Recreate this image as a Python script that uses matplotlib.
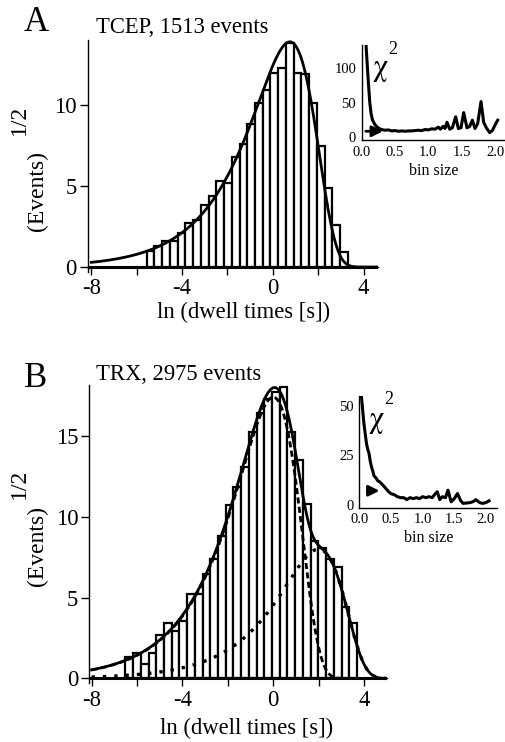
import numpy as np
import matplotlib
matplotlib.use("Agg")
import matplotlib.pyplot as plt

plt.rcParams['font.family'] = ['Liberation Serif', 'DejaVu Serif']

# ---------------- data ----------------
# Panel A: TCEP histogram (sqrt of counts), log-binned dwell times
a_bin_start = -5.56
a_bin_width = 0.341
a_heights = [1.0, 1.3, 1.6, 1.6, 2.1, 2.7, 2.9, 3.8, 4.4, 5.3, 5.2, 6.8, 7.6,
             8.8, 10.1, 10.9, 12.0, 12.3, 13.8, 12.0, 11.9, 10.1, 7.5, 4.9,
             2.6, 0.9]
a_fit_peak = 13.9
a_fit_mode = 0.75

# Panel B: TRX histogram
b_bin_start = -6.51
b_bin_width = 0.34
b_heights = [1.3, 1.6, 0.9, 1.6, 2.7, 3.45, 2.95, 3.55, 5.25, 5.25,
             6.45, 7.4, 8.8, 10.75, 11.85, 13.1, 15.25, 16.4, 17.3, 17.7, 18.0,
             15.25, 13.5, 10.8, 8.5, 8.1, 7.4, 6.9, 4.4, 3.4]
b_fit1_peak, b_fit1_mode = 17.4, 0.0
b_fit2_peak, b_fit2_mode = 8.0, 2.0

# insets: chi^2 vs bin size
a_chi_bin = [0.065, 0.08, 0.10, 0.12, 0.14, 0.16, 0.19, 0.22, 0.26, 0.30, 0.35,
             0.40, 0.45, 0.50, 0.55, 0.60, 0.65, 0.70, 0.75, 0.80, 0.85, 0.90,
             0.95, 1.00, 1.05, 1.10, 1.15, 1.18, 1.22, 1.25, 1.28, 1.32, 1.36,
             1.41, 1.45, 1.49, 1.53, 1.58, 1.62, 1.66, 1.70, 1.74, 1.79, 1.83,
             1.87, 1.92, 1.96, 2.00, 2.04]
a_chi_val = [134, 110, 80, 52, 35, 26, 20, 16, 13, 11.5, 10.5,
             11, 9.5, 10, 9, 9.5, 9, 9.5, 9.5, 10, 10.5, 10,
             11.5, 11, 12.5, 12, 15, 12, 16, 13, 22, 12, 14,
             30, 13, 14, 36, 14, 16, 25, 13, 20, 52, 22,
             14, 7, 10, 18, 25]
b_chi_bin = [0.03, 0.05, 0.07, 0.09, 0.11, 0.13, 0.15, 0.17, 0.19, 0.21, 0.23,
             0.26, 0.29, 0.32, 0.35, 0.38, 0.42, 0.46, 0.50, 0.55, 0.60, 0.65,
             0.70, 0.75, 0.80, 0.85, 0.90, 0.95, 1.00, 1.05, 1.10, 1.15, 1.20,
             1.23, 1.27, 1.31, 1.36, 1.40, 1.45, 1.50, 1.55, 1.60, 1.64, 1.70,
             1.75, 1.80, 1.84, 1.90, 1.95, 2.00, 2.05]
b_chi_val = [55, 48, 41, 36, 31, 28, 26, 22, 19, 17, 14.5,
             13.5, 12, 11.5, 10.5, 9.5, 8, 6.5, 5.5, 5, 4, 3.5,
             3.5, 2.5, 3.5, 3, 3.5, 3, 4, 3.5, 4, 3.5, 5.5,
             6.5, 2.5, 4, 3.5, 7.3, 1.4, 3, 5.6, 2, 0.6, 0.8,
             1, 1.5, 2.5, 1, 0.6, 1, 1.9]
a_opt_bin = 0.36
a_opt_chi = 9
b_opt_bin = 0.36
b_opt_chi = 7


def fit_component(x, peak, mode):
    """sqrt of a single-exponential dwell-time density on a log axis"""
    u = np.exp(x - mode)
    return peak * np.exp((x - mode) / 2.0) * np.exp(-(u - 1.0) / 2.0)


fig = plt.figure(figsize=(5.06, 7.42), dpi=100)

FS = 16.3
YFS = 17
CHI_FONT = ['STIXGeneral', 'Liberation Serif', 'DejaVu Serif']


def style_main(ax, xr, yr, yticks):
    ax.set_xlim(*xr)
    ax.set_ylim(*yr)
    for s in ('top', 'right'):
        ax.spines[s].set_visible(False)
    ax.spines['bottom'].set_position(('data', 0))
    ax.spines['left'].set_linewidth(1.0)
    ax.spines['bottom'].set_linewidth(1.0)
    ax.set_xticks([-8, -6, -4, -2, 0, 2, 4])
    ax.set_xticklabels(['-8', '', '-4', '', '0', '', '4'])
    ax.set_yticks(yticks)
    ax.tick_params(direction='out', length=6, width=1.0, labelsize=FS, pad=2)


# ---------------- panel A ----------------
axA = fig.add_axes([0.1739, 0.6336, 0.5737, 0.3122])
style_main(axA, (-8.15, 4.65), (-0.3, 14.0), [0, 5, 10])
a_left = a_bin_start + a_bin_width * np.arange(len(a_heights))
axA.bar(a_left, a_heights, width=a_bin_width, align='edge', facecolor='white',
        edgecolor='black', linewidth=1.6, zorder=2)
axA.axhline(0, color='black', lw=2.2, zorder=3)
xa = np.linspace(-8.0, 4.65, 600)
axA.plot(xa, fit_component(xa, a_fit_peak, a_fit_mode), color='black', lw=2.0,
         zorder=4)
axA.set_xlabel('ln (dwell times [s])', fontsize=FS)
axA.xaxis.set_label_coords(0.536, -0.177)
axA.xaxis.label.set_va('center')

fig.text(24 / 506, 1 - 31 / 742, 'A', fontsize=25, ha='left', va='baseline')
fig.text(96 / 506, 1 - 33 / 742, 'TCEP, 1513 events', fontsize=FS, ha='left',
         va='baseline')
fig.text(37 / 506, 1 - 191 / 742, '(Events)', fontsize=YFS, rotation=90,
         ha='center', va='center')
fig.text(19 / 506, 1 - 120 / 742, '1/2', fontsize=YFS, rotation=90,
         ha='center', va='center')

# ---------------- panel B ----------------
axB = fig.add_axes([0.1765, 0.0791, 0.5877, 0.402])
style_main(axB, (-8.1, 5.0), (-0.3, 18.15), [0, 5, 10, 15])
b_left = b_bin_start + b_bin_width * np.arange(len(b_heights))
axB.bar(b_left, b_heights, width=b_bin_width, align='edge', facecolor='white',
        edgecolor='black', linewidth=1.6, zorder=2)
axB.axhline(0, color='black', lw=2.2, zorder=3)
xb = np.linspace(-8.0, 5.0, 700)
c1 = fit_component(xb, b_fit1_peak, b_fit1_mode)
c2 = fit_component(xb, b_fit2_peak, b_fit2_mode)
axB.plot(xb, c1, color='black', lw=2.0, ls=(0, (2.2, 1.2)), zorder=4)
axB.plot(xb, c2, color='black', lw=2.4, ls=(0, (1.0, 2.4)), zorder=4)
axB.plot(xb, np.sqrt(c1 ** 2 + c2 ** 2), color='black', lw=2.0, zorder=5)
axB.set_xlabel('ln (dwell times [s])', fontsize=FS)
axB.xaxis.set_label_coords(0.529, -0.151)
axB.xaxis.label.set_va('center')

fig.text(24 / 506, 1 - 387 / 742, 'B', fontsize=25, ha='left', va='baseline')
fig.text(96 / 506, 1 - 380 / 742, 'TRX, 2975 events', fontsize=FS, ha='left',
         va='baseline')
fig.text(37.5 / 506, 1 - 546 / 742, '(Events)', fontsize=YFS, rotation=90,
         ha='center', va='center')
fig.text(19 / 506, 1 - 484 / 742, '1/2', fontsize=YFS, rotation=90,
         ha='center', va='center')


# ---------------- insets ----------------
def style_inset(ax, xr, yr, yticks):
    ax.set_xlim(*xr)
    ax.set_ylim(*yr)
    for s in ('top', 'right'):
        ax.spines[s].set_visible(False)
    ax.spines['left'].set_linewidth(1.0)
    ax.spines['bottom'].set_linewidth(1.0)
    ax.set_xticks([0.0, 0.5, 1.0, 1.5, 2.0])
    ax.set_xticklabels(['0.0', '0.5', '1.0', '1.5', '2.0'])
    ax.set_yticks(yticks)
    ax.tick_params(direction='out', length=0, labelsize=10.5, pad=4)
    ax.patch.set_alpha(0)


insA = fig.add_axes([361.7 / 506, 0.8110, (505 - 361.7) / 506, 0.1284])
style_inset(insA, (0, 2.15), (-4, 134), [0, 50, 100])
insA.plot(a_chi_bin, a_chi_val, color='black', lw=2.2, clip_on=True)
insA.annotate('', xy=(a_opt_bin, a_opt_chi), xytext=(0.02, a_opt_chi),
              arrowprops=dict(arrowstyle='-|>', color='black', lw=2.0,
                              mutation_scale=16))
insA.set_xlabel('bin size', fontsize=11.5, labelpad=3)
insA.text(0.16, 120, 'χ', fontsize=22, family=CHI_FONT, ha='left', va='top')
insA.text(0.40, 140, '2', fontsize=13, ha='left', va='top')

insB = fig.add_axes([359.5 / 506, 0.316, (497.3 - 359.5) / 506, 0.1503])
style_inset(insB, (0, 2.18), (-1.5, 55), [0, 25, 50])
insB.plot(b_chi_bin, b_chi_val, color='black', lw=2.2, clip_on=True)
insB.annotate('', xy=(b_opt_bin, b_opt_chi), xytext=(0.08, b_opt_chi),
              arrowprops=dict(arrowstyle='-|>', color='black', lw=2.0,
                              mutation_scale=16))
insB.set_xlabel('bin size', fontsize=11.5, labelpad=3)
insB.text(0.14, 50, 'χ', fontsize=22, family=CHI_FONT, ha='left', va='top')
insB.text(0.39, 57.5, '2', fontsize=13, ha='left', va='top')

fig.savefig('out.png', dpi=100)
